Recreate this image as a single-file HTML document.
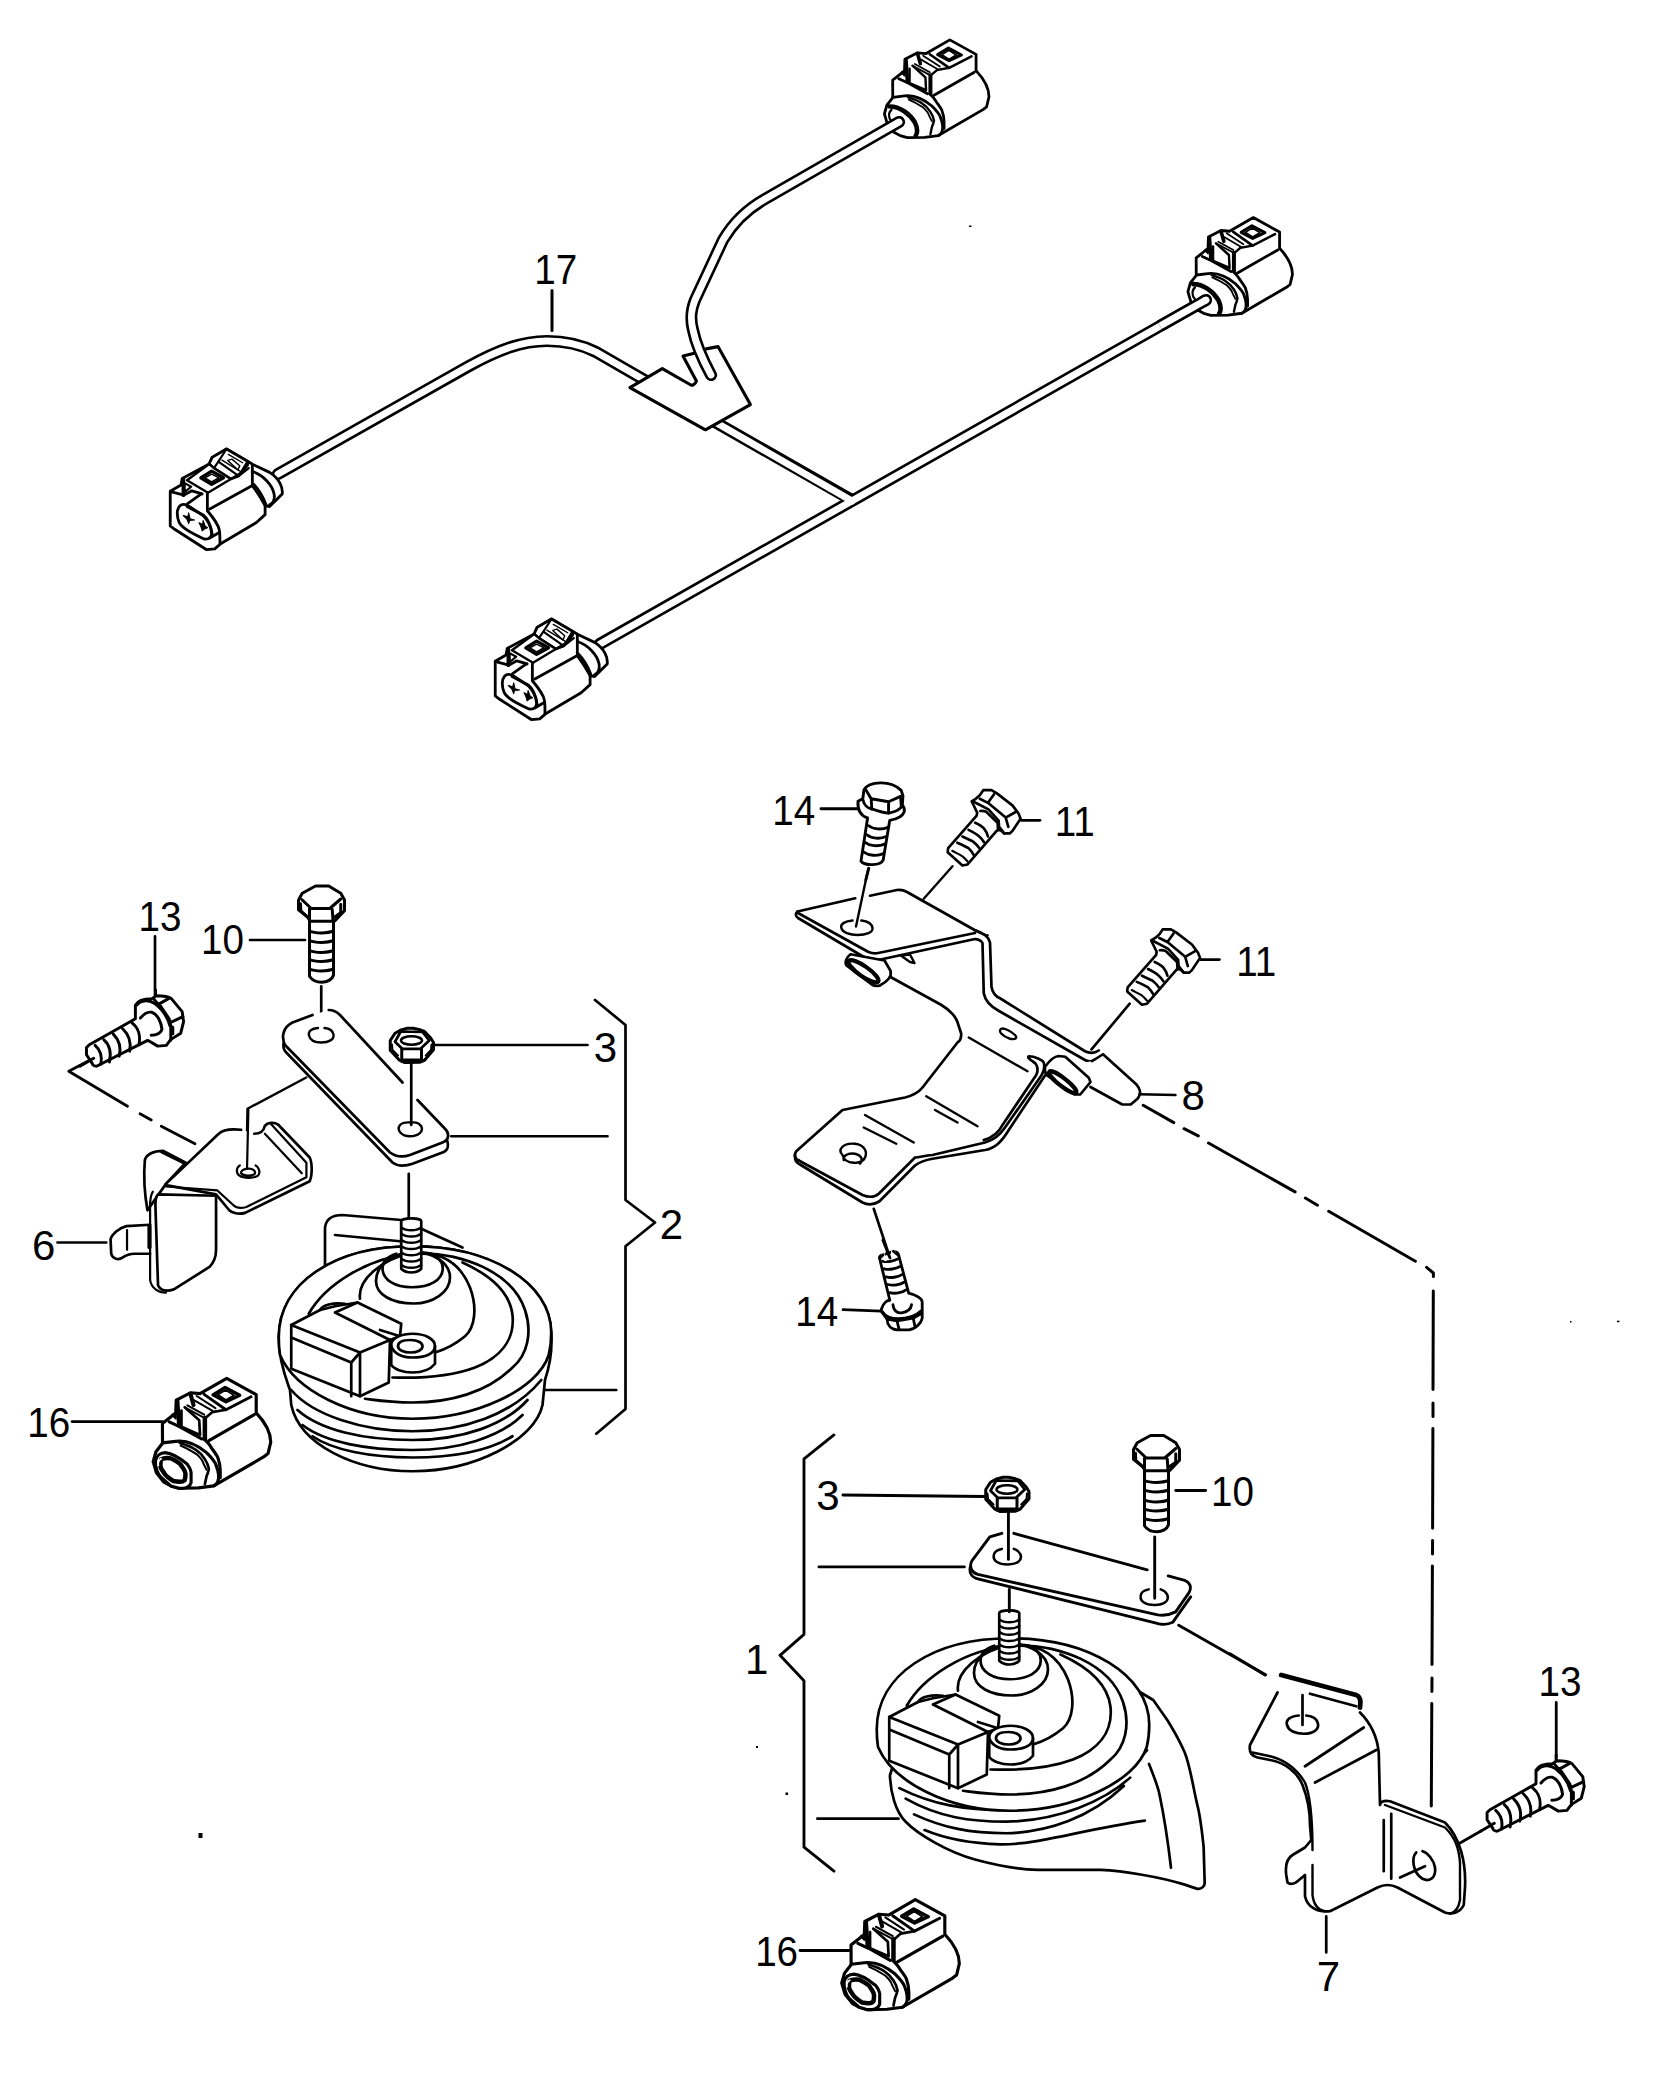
<!DOCTYPE html>
<html><head><meta charset="utf-8">
<style>
html,body{margin:0;padding:0;background:#fff;}
body{width:1668px;height:2077px;overflow:hidden;}
svg{display:block;}
.t{font-family:"Liberation Sans",sans-serif;font-size:42px;fill:#000;}
</style></head><body>
<svg width="1668" height="2077" viewBox="0 0 1668 2077" fill="none" stroke="#000" stroke-linejoin="round" stroke-linecap="round">
<defs>
<g id="connBody" stroke-width="33.6">
  <path fill="#fff" d="M250,1220 L215,1100 L245,995 L315,905 L314,694 L456,582 L461,444 L612,366 L715,375 L1000,211 L1315,385 L1315,580 C1400,670 1470,780 1470,893 L1441,1014 L1398,1048 L862,1359 L698,1381 L491,1385 L404,1360 L330,1320 Z"/>
  <path d="M759,383 L992,547 L1260,409" stroke-width="31.2"/>
  <path d="M854,388 L983,310 L1139,392 L992,461 Z" stroke-width="36"/>
  <path d="M905,388 L988,336 L1078,392 L992,444 Z" stroke-width="19.2"/>
  <path d="M810,876 L1294,599"/>
  <path d="M767,634 L767,858" stroke-width="48"/>
  <path d="M785,625 L845,573 L992,547" stroke-width="28.8"/>
  <path d="M517,556 L517,729 L715,815 L707,660 L552,521" stroke-width="28.8"/>
  <path d="M552,521 L746,625 M580,500 L760,600" stroke-width="21.6"/>
  <path d="M474,452 L491,712" stroke-width="43.2"/>
  <path d="M612,375 L646,496" stroke-width="43.2"/>
  <path d="M680,400 L880,530 M650,445 L850,560" stroke-width="21.6"/>
  <path d="M387,677 L500,729 L733,858"/>
  <path d="M420,600 L456,582 L456,640 Z" stroke-width="21.6"/>
  <path d="M315,900 L456,884 C560,870 660,900 785,1005 C840,1060 880,1110 888,1143 C910,1200 925,1260 905,1316 C890,1340 875,1355 862,1359"/>
  <path d="M767,867 C800,900 820,920 836,953 C870,1000 895,1030 905,1057 C925,1110 930,1150 931,1195 L931,1273"/>
  <path d="M500,902 C560,920 620,940 664,971 C710,1000 745,1040 767,1074 C790,1110 805,1150 810,1178 C805,1210 795,1235 785,1256 L767,1342" stroke-width="28.8"/>
  <path d="M508,928 C560,950 630,990 681,1023 C720,1060 745,1090 750,1118 C760,1140 775,1165 785,1187" stroke-width="21.6"/>
</g>
<g id="connA">
  <use href="#connBody"/>
  <path d="M280,1010 C400,1010 520,1100 580,1200 C620,1280 610,1340 590,1360" stroke-width="55.2"/>
  <path d="M300,1050 C260,1080 260,1150 300,1190" stroke-width="26.4"/>
</g>
<g id="conn16">
  <use href="#connBody"/>
  <path fill="#fff" stroke-width="33.6" d="M240,1092 C250,1040 290,1005 344,1005 C420,1010 520,1080 577,1126 C610,1170 625,1210 620,1239 L620,1325 C610,1360 580,1380 540,1385 L491,1385 L404,1360 L300,1270 C260,1230 240,1160 240,1092 Z"/>
  <path fill="#fff" stroke-width="48" d="M301,1075 C340,1060 380,1060 405,1066 C450,1090 500,1110 517,1144 C540,1180 560,1200 560,1230 C560,1270 555,1290 551,1299 C540,1310 520,1316 500,1316 C470,1316 450,1312 430,1308 C380,1270 340,1250 327,1213 C300,1180 292,1160 292,1144 C292,1110 295,1090 301,1075 Z"/>
  <path d="M270,1140 C265,1110 275,1085 300,1070" stroke-width="19.2" stroke="#fff"/>
</g>
<g id="connB" stroke-width="31.2">
  <path fill="#fff" d="M225,570 L345,500 L358,427 L658,267 L691,193 L851,100 L1085,237 L1140,270 L1180,290 L1330,360 C1440,430 1480,530 1470,600 L1330,740 L1280,730 L1280,830 L1180,920 L790,1150 L720,1210 L630,1220 L265,987 L225,955 Z"/>
  <path fill="#fff" stroke-width="30" d="M658,267 L691,193 L851,100 L1085,237 L1085,280 L985,400 L898,433 L711,313 Z"/>
  <path stroke-width="24" d="M851,100 L760,240 L711,313 M760,240 L985,400 M1085,237 L985,400"/>
  <path stroke-width="16" d="M871,160 L1031,253 M800,225 L1000,345"/>
  <path fill="none" stroke-width="16" d="M865,227 L911,213 L998,287 L978,333 Z"/>
  <path fill="#fff" d="M411,447 L645,587 L1098,313 L985,400 L898,433 L711,313 L658,267 Z" stroke-width="26.4"/>
  <path d="M565,420 L685,347 L818,420 L685,493 Z" stroke-width="36"/>
  <path d="M611,420 L685,380 L768,420 L685,467 Z" stroke-width="16.8"/>
  <path d="M1138,280 L1138,507 L665,767"/>
  <path d="M371,433 L371,613" stroke-width="40.8"/>
  <path d="M385,480 L458,520 L385,580 Z" stroke-width="24"/>
  <path d="M230,575 L378,613 L465,565 L580,600"/>
  <path d="M418,707 L571,600 M638,600 L638,787 C700,860 760,950 771,1000 C780,1050 778,1090 778,1150"/>
  <path d="M1138,507 C1170,550 1230,640 1280,730"/>
  <path d="M331,733 C300,770 295,840 325,920 C350,970 420,1020 600,1100 C660,1110 690,1070 684,1033 C680,960 650,900 590,840 C530,800 470,760 405,720 C370,710 345,718 331,733 Z"/>
  <path d="M411,740 L591,833 C640,870 670,930 690,1040 M665,1090 L760,1035"/>
  <path d="M1140,350 C1260,390 1360,500 1380,600 C1390,660 1370,700 1330,720"/>
  <path d="M1150,490 C1220,560 1260,640 1290,720"/>
  <path fill="#000" stroke-width="12" d="M370,840 L420,855 L430,810 L445,875 L495,890 L440,895 L430,930 L410,880 Z M545,920 L585,940 L590,895 L615,960 L640,975 L605,990 L580,1010 L565,960 Z"/>
</g>
</defs>

<!-- ===== WIRE HARNESS ===== -->
<g id="wires">
  <g stroke-width="12.2">
    <path d="M278,474 L468,366.6 C498,350 522,341 547,341 C565,341 580,344 596,352 L660,389"/>
    <path d="M708,418 L850,499"/>
    <path d="M600,643.9 L1206,300"/>
  </g>
  <g stroke-width="6.9" stroke="#fff">
    <path d="M278,474 L468,366.6 C498,350 522,341 547,341 C565,341 580,344 596,352 L660,389"/>
    <path d="M708,418 L852,501"/>
    <path d="M600,643.9 L1206,300"/>
  </g>
</g>
<use href="#connA" transform="translate(1170,200) scale(0.08333)"/>
<use href="#connA" transform="translate(866.5,22.3) scale(0.08333)"/>
<g stroke-width="12.2"><path d="M1160,326.05 L1206,300" stroke-linecap="butt"/><path d="M1205,300.6 L1206,300"/></g>
<g stroke-width="6.9" stroke="#fff"><path d="M1160,326.05 L1206,300" stroke-linecap="butt"/><path d="M1205,300.6 L1206,300"/></g>
<use href="#connB" transform="translate(150,440) scale(0.08993)"/>
<use href="#connB" transform="translate(475,610) scale(0.08993)"/>
<!-- clip -->
<path fill="#fff" stroke-width="3.12" d="M629.9,387.6 L662.3,368.7 L690,384.5 C692,386 695,385 696.4,381 L683,356.1 L695.5,352.9 L706.3,348.9 L718,346.6 L750.4,404.6 L705.4,429.8 Z"/>
<path d="M711,375 C703,360 696,345 693,330 C690,318 691,310 695,300 L723,240 C730,228 742,212 765,199 L899,122" stroke-width="12.2"/>
<path d="M711,375 C703,360 696,345 693,330 C690,318 691,310 695,300 L723,240 C730,228 742,212 765,199 L899,122" stroke-width="6.9" stroke="#fff"/>
<!-- label 17 -->
<path d="M552,290.5 L552,330.5" stroke-width="3"/>

<!-- ===== BRACKET 8 ===== -->
<g transform="translate(760,760) scale(0.25)" stroke-width="10.8">
  <!-- lower part fills -->
  <path fill="#fff" stroke="none" d="M700,960 C760,1000 800,1040 805,1090 L790,1130 L650,1310 C630,1335 600,1345 580,1350 L330,1400 L140,1565 C135,1600 145,1612 160,1618 L410,1770 C435,1782 458,1778 478,1765 L620,1622 C640,1595 660,1590 690,1585 L900,1550 C940,1540 960,1520 990,1470 L1130,1260 L1150,1195 L1300,1175 L1500,1300 L1520,1355 L1450,1385 L1300,1320 L1000,1150 L925,900 L860,690 Z"/>
  <!-- plate top face -->
  <path fill="#fff" d="M150,606 L381,553 M440,543 L548,520 C565,518 578,522 588,528 L860,681 C890,695 905,705 910,702"/>
  <path d="M150,606 C140,615 142,625 152,632 L422,792 C440,800 460,802 473,800 L855,717 C870,714 885,722 890,732 L895,933 C900,960 920,985 956,1004 L1300,1200 C1320,1210 1340,1205 1350,1195"/>
  <path d="M152,612 L432,767 C450,775 462,775 473,772 L860,692"/>
  <path d="M860,681 C890,690 915,705 920,730 L926,908 C930,930 940,945 960,953 L1300,1165 C1320,1175 1340,1172 1355,1162"/>
  <!-- hole and leader on plate -->
  <path d="M370,642 C340,645 322,655 325,670 C328,690 360,700 390,700 C425,700 452,690 450,672 C448,655 430,645 405,642" stroke-width="9.6"/>
  <path d="M433,435 L384,666" stroke-width="9.6"/>
  <path d="M655,555 L770,425" stroke-width="9.6"/>
  <!-- spacer under plate -->
  <path fill="#fff" d="M362,777 L498,802 L522,843 C527,860 520,880 478,903 C465,905 455,903 447,898 L346,822 C338,810 345,790 362,777 Z"/>
  <ellipse cx="414" cy="845" rx="72" ry="20" transform="rotate(35 414 845)" stroke-width="16.8"/>
  <path d="M563,782 L600,778 L618,812 L600,808 Z" stroke-width="9.6"/>
  <!-- left arm -->
  <path d="M522,868 L724,979 C760,1000 785,1030 790,1049 L805,1095 C805,1110 800,1125 790,1130 L650,1310 C630,1335 600,1345 580,1350 L330,1400 L145,1565 C135,1580 140,1595 155,1602"/>
  <path d="M155,1602 L410,1740 C440,1752 460,1748 475,1735 L620,1590 C640,1588 660,1583 690,1580 L900,1530 C935,1520 960,1500 980,1470 L1120,1270 C1135,1250 1140,1230 1135,1210 C1130,1200 1100,1185 1075,1185 C1070,1190 1075,1195 1090,1205 C1110,1215 1115,1240 1105,1260 L970,1460 C955,1490 930,1510 895,1520"/>
  <path d="M140,1580 C138,1600 145,1612 160,1618 L410,1770 C435,1782 458,1778 478,1765 L620,1622 C640,1607 660,1600 690,1595 L900,1560 C940,1552 965,1530 995,1480 L1140,1262"/>
  <path d="M330,1580 C310,1560 330,1530 380,1535 C420,1540 430,1570 420,1590 C410,1620 340,1620 330,1580 Z M335,1600 C330,1585 350,1570 380,1575 C405,1580 415,1600 400,1615" stroke-width="9.6"/>
  <path d="M420,1420 L615,1530 M415,1470 L545,1535 M665,1345 L870,1465 M700,1400 L790,1450 M835,1110 L1070,1245" stroke-width="9.6"/>
  <path d="M965,1075 C950,1085 970,1105 1000,1115 C1025,1120 1030,1110 1020,1100 C1005,1085 975,1070 965,1075 Z" stroke-width="9.6"/>
  <!-- right tab -->
  <path fill="#fff" d="M1298,1211 L1328,1204 L1372,1177 L1506,1298 L1520,1335 L1510,1355 L1483,1378 L1449,1378 L1322,1308 Z" stroke="none"/>
  <path d="M1328,1204 C1345,1195 1360,1185 1372,1177 L1506,1298 C1515,1310 1522,1325 1520,1335 C1518,1345 1512,1352 1510,1355 L1483,1378 L1449,1378 L1322,1308"/>
  <path fill="#fff" d="M1140,1227 C1160,1200 1180,1185 1194,1184 L1221,1187 L1315,1271 L1322,1288 L1281,1338 L1258,1338 L1147,1261 C1140,1250 1138,1238 1140,1227 Z"/>
  <ellipse cx="1211" cy="1289" rx="68" ry="16" transform="rotate(38 1211 1289)" stroke-width="16.8"/>
  <path d="M1517,1337 L1662,1340" stroke-width="9.6"/>
</g>

<!-- ===== BOLT 14 top ===== -->
<g transform="translate(840,770) scale(0.1199)" stroke-width="24">
  <path fill="#fff" d="M200,165 C240,95 420,80 510,170 L525,215 L520,295 C535,310 540,330 535,350 C520,390 470,410 415,420 L360,750 C340,800 200,800 175,760 L230,400 C180,385 145,340 150,260 L190,240 Z"/>
  <path d="M215,165 L260,240 L405,265 L505,220 M260,240 L265,325 M405,265 L405,360 M505,220 L512,310" />
  <path d="M192,250 C200,290 230,320 265,325 C320,345 370,360 405,360 C450,352 495,335 515,305"/>
  <path d="M240,465 C275,495 350,500 400,478 M225,540 C260,572 335,578 385,555 M212,605 C250,635 320,640 372,618 M198,685 C240,715 310,720 362,698"/>
  <path d="M240,820 L215,917"/>
</g>
<!-- ===== BOLT 11 (x2) ===== -->
<g id="bolt11" transform="translate(840,770) scale(0.1199)" stroke-width="22">
  <path fill="#fff" d="M1195,168 L1263,168 L1306,193 L1438,295 L1489,363 L1506,406 L1438,508 L1416,529 L1370,529 L1336,499 L1310,504 L1064,788 L1021,797 L898,686 L902,652 L1140,380 L1144,355 L1098,261 L1132,240 L1166,210 Z"/>
  <path d="M1166,240 L1234,274 L1285,202 M1234,274 L1382,397 L1472,346 M1382,397 L1404,474"/>
  <path d="M1115,265 L1238,329 L1323,423 L1327,474 L1370,529"/>
  <path d="M1170,342 C1185,340 1200,342 1217,346 L1314,440 L1318,500"/>
  <path d="M1127,440 C1160,455 1185,470 1200,487 C1215,505 1228,530 1234,555 M1072,499 C1105,515 1135,530 1157,550 C1175,565 1190,585 1200,601 M1021,555 C1055,570 1085,585 1110,597 C1135,615 1150,635 1166,657 M978,606 C1010,620 1045,635 1072,652 C1090,670 1105,690 1115,708"/>
  <path d="M936,674 C965,690 995,705 1021,720 C1040,735 1052,750 1064,763" stroke-width="18"/>
  <path d="M1510,420 L1668,420"/>
</g>
<use href="#bolt11" transform="translate(179.5,139.2)"/>
<!-- ===== BOLT 14 bottom ===== -->
<g transform="translate(790,1240) scale(0.08993)" stroke-width="31.2">
  <path fill="#fff" d="M995,200 C990,180 1020,160 1035,165 L1150,125 C1180,130 1205,150 1210,175 L1320,590 C1400,610 1470,650 1470,690 L1470,870 C1460,920 1400,990 1320,1000 L1190,1000 C1120,990 1080,940 1080,880 L1020,800 C1010,780 1015,770 1020,760 C1040,700 1080,670 1110,670 Z"/>
  <path d="M1030,235 C1080,250 1160,235 1200,210 M1048,320 C1100,335 1180,320 1222,295 M1068,410 C1120,425 1200,415 1245,385 M1090,495 C1145,510 1225,500 1268,470 M1110,585 C1165,600 1245,590 1290,555"/>
  <path d="M1145,720 C1150,790 1200,815 1240,810 C1310,800 1345,765 1352,720"/>
  <path d="M1030,800 C1060,850 1130,875 1200,875 C1300,875 1400,845 1455,790"/>
  <path d="M1080,880 L1190,900 L1370,870 L1455,820 M1190,900 L1212,990 M1370,870 L1392,970"/>
  <path d="M1035,165 C1030,180 1040,200 1060,210 M1150,125 C1140,140 1150,160 1170,170" stroke="#fff" stroke-width="48"/>
  <path d="M1000,200 L1035,165 M1150,125 L1210,175" />
  <path d="M1030,0 L1100,180" stroke-width="26.4"/>
  <path d="M590,775 L1015,790" stroke-width="31.2"/>
</g>
<!-- dashed line bracket8 -> bracket7 -->
<path d="M1143.2,1105.3 L1173.8,1122.6 M1184,1128.7 L1198.3,1135.9 M1208.5,1143 L1295.1,1191.9 M1305.3,1198 L1317.5,1205.2 M1328.7,1211.3 L1415.4,1261.2 M1426.6,1267.3 L1433.4,1273 L1433.4,1276.5 M1433.3,1291 L1433,1389.4 M1433,1402.9 L1433,1416.4 M1432.9,1428.5 L1432.6,1528.3 M1432.6,1540.4 L1432.5,1553.9 M1432.4,1566 L1432,1664.4 M1432,1677.9 L1431.9,1691.4 M1431.8,1703.5 L1431.3,1806" stroke-width="3"/>

<path d="M1129.7,1003.7 L1091.5,1049.4 M873.75,1208.75 L890,1258" stroke-width="2.64"/>
<!-- ===== LEFT ASSEMBLY ===== -->
<!-- dashed line from bolt 13 -->
<path d="M92.5,1058.75 L68.75,1071.25 L127.5,1106.25 M140,1113.75 L151.25,1120 M161.25,1126.25 L195,1143.75" stroke-width="2.76"/>
<!-- bolt 13 left -->
<g id="bolt13" transform="translate(80,990) scale(0.07194)" stroke-width="40.8">
  <path fill="#fff" d="M770,400 L770,210 C800,150 880,120 1000,120 L1060,80 C1150,80 1230,90 1270,120 L1420,300 L1440,440 L1400,600 L1260,690 L1200,770 L1080,780 L960,710 L940,700 L230,1060 C200,1060 170,1040 170,1020 L90,900 L90,800 L130,760 Z"/>
  <path d="M1030,130 L1090,200 L1230,120 M1110,210 L1240,400 L1262,500 M1262,450 L1430,370 M1262,500 L1262,700 M1262,500 L1290,520 L1290,610"/>
  <path d="M790,210 C850,140 960,130 1040,190 C1130,260 1220,380 1250,500"/>
  <path d="M840,390 C890,330 950,300 1000,310 C1080,340 1130,450 1140,550 C1120,600 1060,630 990,630"/>
  <path d="M720,455 C800,520 850,600 820,760 M590,535 C670,610 720,700 690,850 M460,610 C540,690 580,780 545,920 M330,690 C410,760 440,850 410,1000 M210,770 C290,840 310,930 290,1030"/>
  <path d="M0,1060 L190,950 M1050,0 L1050,80"/>
</g>
<!-- bolt 10 left -->
<g id="bolt10" transform="translate(20,880) scale(0.25)" stroke-width="12">
  <path fill="#fff" d="M1114,80 L1129,53 L1182,24 L1235,24 L1283,53 L1298,80 L1298,123 L1260,163 L1254,165 L1254,381 C1249,398 1228,409 1207,409 C1190,409 1169,402 1158,385 L1158,161 L1150,148 L1114,119 Z"/>
  <path d="M1127,78 L1165,114 L1239,114 L1283,76 M1158,114 L1158,165 M1249,118 L1252,165 M1158,165 L1254,165 M1122,95 L1123,123 L1150,148 M1283,97 L1283,131 L1256,150"/>
  <path d="M1158,204 C1180,214 1230,214 1254,204 M1158,242 C1180,252 1230,252 1254,242 M1158,282 C1180,292 1230,292 1254,282 M1158,318 C1180,328 1230,328 1254,318 M1158,356 C1180,366 1230,366 1254,356"/>
</g>
<g transform="translate(20,880) scale(0.25)" stroke-width="10.8">
  <!-- leaders -->
  <path d="M540,225 L540,460 M920,240 L1140,240 M150,1450 L345,1450 M1205,425 L1205,615"/>
  <!-- plate -->
  <path fill="#fff" d="M1170,540 L1090,570 C1050,590 1045,630 1060,660 L1480,1090 C1500,1105 1530,1110 1560,1100 L1690,1050 C1710,1040 1710,1010 1705,1000 L1605,890 L1530,810 L1280,540 C1270,528 1255,520 1235,520 Z" stroke="none"/>
  <path d="M1170,540 L1090,570 C1050,590 1045,630 1060,660 L1480,1090 C1500,1105 1530,1110 1560,1100 L1690,1050 M1235,520 C1260,520 1270,530 1280,540 L1530,810 M1590,880 L1700,995 C1718,1012 1718,1040 1690,1050"/>
  <path d="M1055,650 C1050,670 1055,680 1065,690 L1490,1130 C1510,1145 1540,1145 1570,1135 L1695,1088 C1712,1080 1715,1060 1708,1040"/>
  <path d="M1192,592 C1165,594 1152,605 1156,622 C1160,640 1180,650 1205,650 C1235,650 1258,638 1254,618 C1251,602 1238,594 1218,592" stroke-width="9.6"/>
  <path d="M1520,980 C1505,1000 1525,1025 1560,1025 C1595,1025 1615,1005 1605,985 C1595,970 1580,968 1565,970 C1545,968 1530,970 1520,980 Z" stroke-width="9.6"/>
  <path d="M1145,790 L910,915 L905,1150" stroke-width="9.6"/>
</g>
<!-- bracket 6 -->
<g transform="translate(100,1110) scale(0.13189)" stroke-width="20.4">
  <path fill="#fff" d="M360,760 C340,650 330,500 340,380 C350,340 400,310 480,310 L650,400 L500,560 Z"/>
  <path d="M465,320 L645,410" stroke-width="16.8"/>
  <path fill="#fff" d="M500,560 L900,180 C930,150 980,140 1070,150 L1170,180 C1220,180 1240,160 1250,120 C1270,95 1320,90 1350,110 L1590,360 C1610,400 1610,500 1590,540 L1100,780 C1050,795 1000,780 980,760 L880,640 Z" stroke="none"/>
  <path d="M500,560 L900,180 C930,150 980,140 1070,150 M1170,180 C1220,180 1240,160 1250,120 C1270,95 1320,90 1350,110 L1590,360 C1610,400 1610,500 1590,540 L1100,780 C1050,795 1000,780 980,760 L880,640 L500,570"/>
  <path d="M1300,110 L1565,400 L1565,510 L1110,735 C1060,750 1030,740 1010,720 L890,610 L500,580" stroke-width="16.8"/>
  <path d="M1250,180 L1530,480" stroke-width="16.8"/>
  <path fill="#fff" d="M440,640 C420,660 420,700 420,720 L440,1330 C460,1370 500,1380 560,1360 L830,1190 C860,1160 880,1110 880,1060 L880,650 Z"/>
  <path d="M400,620 C380,650 378,700 380,760 L380,1290 C390,1350 440,1385 500,1385" stroke-width="16.8"/>
  <path d="M380,870 L200,880 C150,890 90,940 80,980 L85,1090 C95,1130 140,1140 170,1120 C200,1100 220,1090 260,1090 L380,1090"/>
  <path d="M205,910 L205,1060" stroke-width="16.8"/>
  <path d="M375,880 L375,1040" stroke-width="31.2"/>
  <path d="M1060,420 C1030,440 1030,480 1060,500 C1090,520 1170,520 1200,495 C1220,470 1200,430 1180,420 M1070,470 C1080,450 1110,445 1130,445 C1160,445 1180,460 1175,480 C1170,500 1090,505 1070,480" stroke-width="16.8"/>
  <path d="M1125,0 L1115,440" stroke-width="16.8"/>
</g>
<!-- nut 3 left -->
<g id="nut3" transform="translate(250,1000) scale(0.25)" stroke-width="11">
  <path fill="#fff" stroke-width="12" d="M561,162 L580,133 L601,121 L630,113 L652,113 L676,118 L698,126 L722,151 L734,170 L734,199 L698,241 L678,249 L617,250 L598,241 L561,201 Z"/>
  <path d="M580,167 L609,195 L682,195 L717,162 L690,128 L603,126 Z"/>
  <ellipse cx="646" cy="162" rx="42" ry="17" stroke-width="10"/>
  <path d="M607,196 L607,244 M686,196 L686,242 M609,240 L680,240" stroke-width="12"/>
  <path d="M568,178 L570,200 L592,222 M726,178 L724,200 L703,222" stroke-width="8"/>
</g>
<g transform="translate(250,1000) scale(0.25)" stroke-width="10.8">
  <path d="M645,245 L645,500 M635,695 L635,880 M740,180 L1350,180 M805,545 L1430,545 M1180,1560 L1465,1560"/>
  <path d="M1380,0 L1502,100 L1502,800 L1620,890 L1502,985 L1502,1636 L1385,1735"/>
</g>
<!-- horn 2 -->
<g transform="translate(250,1000) scale(0.25)" stroke-width="10.8">
  <path fill="#fff" d="M300,1080 L300,910 C305,870 340,860 370,860 L605,880 L605,1000 Z"/>
  <path d="M340,940 L600,965 M685,915 L850,990"/>
  <path fill="#fff" d="M115,1350 C115,1450 150,1530 160,1560 L165,1620 C200,1780 420,1885 650,1885 C900,1885 1140,1760 1170,1620 L1180,1520 C1200,1460 1210,1400 1205,1330 C1200,1130 960,985 650,985 C340,985 115,1130 115,1350 Z"/>
  <path d="M165,1560 C250,1660 450,1725 650,1725 C850,1725 1050,1660 1165,1520 M190,1640 C280,1720 450,1760 650,1760 C850,1760 1020,1700 1110,1600 M210,1700 C300,1770 470,1800 650,1800 C830,1800 1000,1750 1090,1660 M250,1745 C330,1800 480,1830 650,1830 C820,1830 960,1800 1050,1745"/>
</g>
<g id="hornTop" transform="translate(250,1000) scale(0.25)" stroke-width="10.8">
  <path fill="#fff" d="M115,1350 C115,1130 340,985 650,985 C960,985 1205,1130 1205,1330 C1205,1380 1200,1400 1195,1420 C1150,1560 900,1675 650,1675 C400,1675 180,1560 120,1420 C117,1400 115,1380 115,1350 Z"/>
  <path d="M235,1255 C300,1140 470,1030 650,1015 C850,1005 1050,1090 1100,1240 C1130,1330 1110,1420 1050,1470 C950,1570 800,1610 650,1610 C560,1610 500,1600 460,1595"/>
  <path d="M850,1050 C960,1100 1040,1170 1050,1260 C1060,1360 1000,1430 900,1470 C820,1500 720,1515 570,1510"/>
  <path d="M440,1195 C430,1120 520,1040 650,1010 C760,1005 840,1050 880,1150 C910,1230 900,1310 860,1345 C830,1370 790,1395 740,1410"/>
  <path d="M504,1124 C504,1060 570,1012 650,1008 C730,1008 800,1050 800,1110 C800,1170 730,1214 655,1214 C570,1214 504,1180 504,1124 Z"/>
  <path d="M530,1073 C530,1120 580,1149 648,1149 C720,1149 771,1120 771,1073 C771,1045 750,1025 720,1015 M530,1073 C530,1045 555,1025 585,1015"/>
  <path fill="#fff" d="M605,885 C605,870 685,870 685,885 L685,1075 C665,1095 625,1095 605,1075 Z"/>
  <path d="M605,910 C625,925 665,925 685,910 M605,935 C625,950 665,950 685,935 M605,960 C625,975 665,975 685,960 M605,985 C625,1000 665,1000 685,985 M605,1010 C625,1025 665,1025 685,1010 M605,1035 C625,1050 665,1050 685,1035 M605,1060 C625,1075 665,1075 685,1060" stroke-width="9.6"/>
  <path fill="#fff" d="M280,1240 L340,1225 L430,1210 L605,1295 L600,1345 L560,1360 L555,1530 L440,1585 L165,1475 L165,1300 Z"/>
  <path d="M165,1300 L440,1410 L560,1360 M440,1410 L440,1585 M165,1350 L405,1450 L405,1585 M405,1450 L440,1410 M340,1250 L560,1360 M430,1210 L340,1250 M600,1345 L520,1320"/>
  <path d="M280,1240 C290,1220 330,1210 380,1215"/>
  <path fill="#fff" d="M565,1380 C565,1350 610,1335 650,1335 C700,1335 740,1355 740,1385 L740,1455 C720,1480 690,1490 650,1490 C610,1490 575,1475 565,1460 Z"/>
  <path d="M565,1385 C575,1415 610,1430 650,1430 C700,1430 740,1415 740,1385"/>
  <path d="M592,1385 C592,1365 620,1360 642,1360 C670,1360 690,1370 690,1385 C690,1400 670,1410 642,1410 C615,1410 592,1400 592,1385 Z"/>
</g>
<!-- connector 16 left -->
<use href="#conn16" transform="translate(133,1358.5) scale(0.0937)"/>

<!-- ===== RIGHT ASSEMBLY ===== -->
<g transform="translate(598,392)">
 <g transform="translate(250,1000) scale(0.25)" stroke-width="10.8">
  <path fill="#fff" d="M167.7,1534 C170,1600 190,1680 230.7,1718.8 C280,1770 400,1840 507.7,1870 C600,1895 700,1910 759.4,1911.8 L1011,1911.8 C1100,1915 1250,1940 1346.9,1970.6 L1397.3,1987.4 C1415,1990 1428,1975 1426.7,1962.2 L1422.5,1819.5 C1415,1750 1410,1700 1397.3,1651.7 C1380,1580 1370,1500 1346.9,1441.8 C1320,1380 1300,1350 1279.8,1315.9 L1221,1232 L1000,1100 L300,1100 Z"/>
  <path d="M1204,1488 C1225,1540 1240,1580 1246,1610 C1265,1700 1280,1800 1292,1903"/>
  <path d="M205.5,1584.5 C339.8,1651.7 465.7,1672.6 633.5,1672.6 C843.4,1668.4 1053.2,1584.5 1195.9,1433.4 M230.7,1626.5 C365,1702 490.8,1718.8 633.5,1718.8 C843.4,1714.6 1028,1634.9 1128.6,1542.5 M264.3,1689.4 C381.8,1744 490.8,1765 633.5,1765 C801.4,1760.8 969.3,1702 1103.4,1576.1 M306.2,1752.4 C406.9,1794.3 507.7,1806.9 608.4,1809.4 C759.4,1811.1 927.3,1752.4 1187.5,1714.6"/>
 </g>
 <use href="#hornTop"/>
</g>
<use href="#nut3" transform="translate(595.5,449)"/>
<use href="#bolt10" transform="translate(835,549.5)"/>
<g transform="translate(780,1420) scale(0.29976)" stroke-width="9.6">
  <path fill="#fff" d="M740,378 L700,390 L640,470 C630,490 640,510 660,515 L1260,650 C1290,655 1310,645 1320,640 L1365,575 C1375,555 1365,540 1350,535 L1295,520 L1225,500 Z" stroke="none"/>
  <path d="M740,378 L700,390 L640,470 C630,490 640,510 660,515 L1260,650 C1290,655 1310,645 1320,640 L1365,575 C1375,555 1365,540 1350,535 L1295,520 M1225,500 L780,378"/>
  <path d="M635,490 C630,510 640,525 660,530 L1265,680 C1290,685 1300,680 1310,675 L1370,590"/>
  <path d="M715,445 C705,470 730,482 760,482 C790,482 810,470 802,448 C797,438 790,433 780,430 M740,430 C725,433 718,438 715,445" stroke-width="8.4"/>
  <path d="M1205,580 C1195,605 1220,617 1250,617 C1280,617 1300,605 1292,583 C1287,573 1280,568 1270,565 M1230,565 C1215,568 1208,573 1205,580" stroke-width="8.4"/>
  <path d="M762,300 L762,465 M1250,390 L1250,595 M765,565 L765,640"/>
  <path d="M130,490 L615,490 M125,1330 L395,1330 M210,250 L683,255 M1320,235 L1420,235 M1330,685 L1620,850"/>
  <path d="M180,50 L80,130 L80,715 L0,785 L80,870 L80,1425 L180,1505"/>
</g>
<!-- bracket 7 -->
<g transform="translate(1230,1600) scale(0.25)" stroke-width="10.8">
  <path fill="#fff" stroke="none" d="M205,300 L505,380 C520,385 525,400 520,450 C570,500 590,560 595,610 L600,820 L860,890 C920,950 945,1050 940,1150 L935,1220 C920,1250 890,1260 860,1250 L670,1150 C650,1140 620,1135 590,1150 L400,1245 C350,1250 310,1230 300,1185 L300,1100 L270,1125 C260,1135 240,1140 230,1130 L225,1100 C220,1060 225,1035 250,1020 L300,990 L325,960 L320,900 C320,850 310,790 290,740 C270,690 220,650 160,640 L110,630 C85,625 75,610 80,580 L190,370 Z"/>
  <path d="M205,300 L505,380 C520,385 525,400 520,430" stroke-width="19.2"/>
  <path d="M320,375 L505,425"/>
  <path d="M190,370 L80,580 C75,610 85,625 110,630 L160,640 C220,650 270,690 290,740 C310,790 320,850 320,900 L325,960 L300,990 L250,1020 C225,1035 220,1060 225,1100 L230,1130 C240,1140 260,1135 270,1125 L300,1100 L300,1185 C310,1230 350,1250 400,1245 L590,1150 C620,1135 650,1140 670,1150 L860,1250 C890,1260 920,1250 935,1220 L940,1150 C945,1050 920,950 860,890 L640,805 C610,800 600,810 600,820 L595,610 C590,560 570,500 520,450"/>
  <path d="M90,610 L160,625 C220,640 270,680 300,730 C320,780 330,850 330,1000 M330,1060 L330,1180 C335,1220 350,1240 380,1245 M620,820 L860,910 C900,950 915,990 920,1050 L920,1200 C915,1230 900,1250 880,1255" stroke-width="9.6"/>
  <path d="M300,665 L535,510 M340,730 L585,600 M615,880 L615,1085 M645,855 L645,1115"/>
  <path d="M275,462 C240,465 222,480 228,500 C235,525 265,535 295,535 C330,535 357,520 352,495 C348,475 330,464 305,462" />
  <path d="M290,380 L290,500"/>
  <path d="M745,1010 C725,1030 730,1090 770,1115 C800,1130 825,1110 820,1070 C815,1040 790,1010 770,1005" />
  <path d="M680,1110 L780,1065"/>
  <path d="M0,215 L140,300 M385,1265 L385,1410"/>
</g>
<use href="#bolt13" transform="translate(1400.6,765)"/>
<path d="M1458.75,1843.75 L1481,1831 M1556.25,1702.5 L1556.25,1757.5" stroke-width="2.76"/>
<use href="#conn16" transform="translate(821.6,1879.9) scale(0.0937)"/>
<path d="M821,808.75 L857.5,808.75 M72.1,1421.6 L162.5,1421.6 M800,1950.5 L849.1,1950.5" stroke-width="2.88"/>
<g stroke="none" fill="#000">
<rect x="198.5" y="1833" width="4" height="5"/>
<rect x="1570" y="1321" width="1.5" height="1.5"/>
<rect x="1617" y="1320.7" width="2.5" height="1.5"/>
<rect x="969" y="225.5" width="2.5" height="1.5"/>
<rect x="756" y="1746" width="2" height="2"/>
<rect x="785.5" y="1792.5" width="2.5" height="2.5"/>
</g>
<g class="labels" stroke="none">
<text class="t" transform="translate(534.24,284.0) scale(0.92,1)">17</text>
<text class="t" transform="translate(772.24,825.0) scale(0.92,1)">14</text>
<text class="t" transform="translate(1054.74,836.0) scale(0.92,1)">11</text>
<text class="t" transform="translate(1236.24,976.0) scale(0.92,1)">11</text>
<text class="t" x="1181.6" y="1110">8</text>
<text class="t" transform="translate(795.24,1326.0) scale(0.92,1)">14</text>
<text class="t" transform="translate(138.49,931.0) scale(0.92,1)">13</text>
<text class="t" transform="translate(200.99,953.5) scale(0.92,1)">10</text>
<text class="t" x="593.8" y="1061.5">3</text>
<text class="t" x="659.8" y="1239">2</text>
<text class="t" x="32" y="1259.5">6</text>
<text class="t" transform="translate(27.24,1437.0) scale(0.92,1)">16</text>
<text class="t" x="745" y="1673.5">1</text>
<text class="t" x="816.2" y="1510">3</text>
<text class="t" transform="translate(1211.0,1506.0) scale(0.92,1)">10</text>
<text class="t" transform="translate(1538.49,1696.0) scale(0.92,1)">13</text>
<text class="t" x="1316.75" y="1991">7</text>
<text class="t" transform="translate(755.14,1966.0) scale(0.92,1)">16</text>
</g>
</svg>
</body></html>
